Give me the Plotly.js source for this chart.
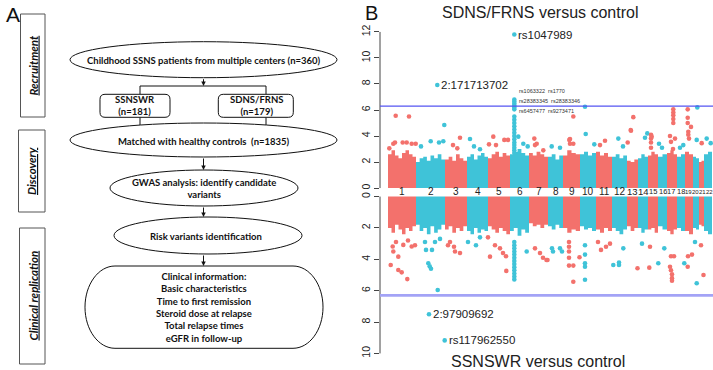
<!DOCTYPE html>
<html><head><meta charset="utf-8">
<script src="https://cdn.plot.ly/plotly-3.0.1.min.js"></script>
<style>body{margin:0;background:#fff}#chart{width:713px;height:370px}</style>
</head><body><div id="chart"></div>
<script>
// ---------------- DATA ----------------
const chromosomes = ['1','2','3','4','5','6','7','8','9','10','11','12','13','14','15','16','17','18','19','20','21','22'];
// relative genomic width of each chromosome (scaled units)
const chrWidth = [28,29,22,21,22,19,19,15,17,16,16,15,11,10,10,9,10,8,8,6,5,8];

// dense-SNP envelope (-log10 P) per chromosome, SDNS/FRNS vs control
const topProfile = [
  [2.6,2.9,2.5,2.3,2.7,2.9,2.6,2.4],[2.0,2.3,2.4,2.1,2.5,2.3,2.6,2.2],[2.2,2.4,2.1,2.6,2.3,2.1],
  [2.4,2.6,2.2,2.5,2.7,2.4],[2.3,2.6,2.8,2.4,2.7,2.5],[2.6,2.8,3.0,2.7,2.5],[2.7,2.5,2.8,2.6,2.4],
  [2.4,2.6,2.2,2.5],[2.5,2.9,2.7,2.6],[2.6,2.8,2.5,2.7],[2.8,2.5,2.7,2.4],[2.4,2.6,2.3,2.5],
  [2.1,2.0,2.2],[2.3,2.6,2.4],[2.5,2.8,2.6],[2.4,2.6],[2.7,2.9,2.6],[2.4,2.6],[2.8,2.6],[2.4,2.3],[2.0,2.1],[2.6,2.8]
];
// dense-SNP envelope, SSNSWR vs control
const bottomProfile = [
  [2.0,2.3,1.8,2.1,2.4,2.0,2.2,1.9],[1.8,2.2,2.0,2.4,1.9,2.3,2.1,1.8],[2.1,1.9,2.3,2.0,2.2,1.9],
  [2.2,2.4,2.0,2.3,2.1,2.2],[1.9,2.1,2.3,2.0,2.2,2.4],[2.2,2.0,2.5,2.1,2.3],[1.7,1.9,1.8,2.0,1.8],
  [1.9,2.1,1.8,2.0],[2.0,2.3,2.1,2.2],[1.9,2.1,2.0,2.2],[2.1,2.3,2.0,2.2],[2.0,2.2,2.4,2.1],
  [1.9,2.2,2.0],[2.0,2.3,2.1],[2.1,2.0,2.3],[1.9,2.1],[2.2,2.4,2.1],[2.0,2.2],[2.2,2.4],[2.0,2.1],[1.8,1.9],[2.2,2.4]
];

// individual SNPs above the dense band: SDNS/FRNS vs control
const topPos = [7.7,21,7,18.7,27.7,1.3,5.3,14.7,23.7,
  49.3,56.3,42.7,55.3,51,33,
  72,69.3,65,
  82,92,101,86,
  105.3,116.3,120,108,
  126.3,126.3,126.3,126.3,126.3,126.3,126.3,126.3,126.3,126.3,126.3,126.3,126.3,126.3,126.3,126.3,126.3,126.3,126.3,126.3,
  130.3,135.3,139.7,
  146.3,148.7,155.3,147,
  163.7,172,
  185.3,182,182,181.3,185.3,
  197,197.7,206.3,
  217,212,
  230.3,235,
  245.3,243,239.7,242.7,
  257,259.3,
  263,263,263,263,263.7,
  271,274,
  285.3,285.3,285.3,285.3,285.3,282,283,285,287,
  295.3,292,
  299.7,299.7,299.7,303,300.3,300.3,301,
  309.3,308.7,
  313.7,322.7,318.7];
const topLogP = [5.56,5.5,3.5,3.5,3.4,3.05,3.4,3.5,3.4,
  7.92,4.85,3.6,3.6,3.5,3.2,
  3.87,3.05,3.3,
  3.77,2.98,3.36,3.2,
  3.95,3.7,3.7,3.3,
  11.8,6.8,6.65,6.5,6.35,6.2,6.05,5.5,5.25,5.0,4.75,4.5,4.25,4.0,3.75,3.5,3.3,3.1,2.9,2.7,
  3.95,3.4,3.2,
  3.8,3.4,2.9,3.3,
  3.2,3.1,
  5.5,3.77,3.4,3.7,3.4,
  6.25,4.15,3.36,
  3.64,3.3,
  3.8,3.2,
  5.45,4.4,3.5,4.46,
  3.87,4.2,
  4.1,3.8,3.5,3.1,3.95,
  3.4,3.1,
  6.05,5.8,5.6,5.3,5.0,4.0,3.55,3.0,3.8,
  3.3,3.1,
  6.05,5.4,5.0,4.7,4.33,4.1,3.8,
  6.2,3.7,
  3.45,3.45,3.8];

// individual SNPs: SSNSWR vs control
const botPos = [2.7,10.3,13.7,19.3,10.3,5.3,4.7,15.3,23.7,27,8,20,
  40.3,41.7,43,49.7,41,56.7,37,38,44,47,52,
  62,67,72,66,60,
  80,88,92,100,
  102,107,112,118.3,118,115,
  126.3,126.3,126.3,126.3,126.3,126.3,126.3,126.3,126.3,126.3,126.3,126.3,126.3,138.7,
  147,152,155,158.5,159.5,
  164,165,172,174,
  181,181,181,181,181,185.3,185.3,191.5,
  197,197,197,197,197,
  210,213,218,222,
  225.3,231,231,235.3,
  249.5,254,
  261.3,262,
  270.3,276.3,
  282,283,284,284,284,283,286,
  296.3,
  299.7,300,304,
  308.7,307,
  313,315.5];
const botLogP = [4.36,4.68,4.83,5.26,3.83,3.5,3.18,3.08,3.18,3.1,2.9,2.8,
  4.25,4.45,4.6,5.96,7.5,9.17,2.9,3.4,3.4,2.9,2.7,
  2.9,3.5,3.6,3.2,3.1,
  2.9,3.1,2.6,2.6,
  3.83,3.1,3.3,4.74,3.8,3.6,
  2.9,3.1,3.3,3.5,3.7,3.9,4.1,4.3,4.5,4.7,4.9,5.1,5.28,3.5,
  3.3,3.6,3.9,4.04,4.04,
  3.3,3.5,3.3,3.5,
  2.9,3.2,3.5,3.9,4.4,4.4,5.43,3.87,
  3.1,3.7,4.25,4.47,5.3,
  2.9,3.4,3.2,3.0,
  4.36,4.2,4.36,3.3,
  4.57,3.0,
  4.53,3.2,
  4.25,3.3,
  4.47,4.7,4.96,5.2,5.37,3.8,3.8,
  4.25,
  4.47,3.8,3.7,
  5.53,2.9,
  3.1,5.0];

const topHitNames = ['rs1047989','2:171713702'];
const topHitPos = [126.3,49.3];
const topHitLogP = [11.8,7.92];
const hlaLabels = ['rs1063322  rs1770','rs28383345  rs28383346','rs6457477  rs9273471'];
const hlaLabelLogP = [7.48,6.71,5.95];
const botHitNames = ['2:97909692','rs117962550'];
const botHitPos = [41,56.7];
const botHitLogP = [7.5,9.17];
const threshold = 6.3;
const topTicks = [0,2,4,6,8,10,12];
const botTicks = [0,2,4,6,8,10];

const flowNodes = [
  'Childhood SSNS patients from multiple centers (n=360)',
  'SSNSWR<br>(n=181)','SDNS/FRNS<br>(n=179)',
  'Matched with healthy controls  (n=1835)',
  'GWAS analysis: identify candidate<br>variants',
  'Risk variants identification',
  'Clinical information:<br>Basic characteristics<br>Time to first remission<br>Steroid dose at relapse<br>Total relapse times<br>eGFR in follow-up'
];
const stageNames = ['Recruitment','Discovery','Clinical replication'];

// ---------------- BUILD ----------------
const W = 713, H = 370;
const px = v => v / W, py = v => 1 - v / H;
const RED = '#F3716C', BLUE = '#3FC3D8';
const starts = []; { let a = 0; chrWidth.forEach(w => { starts.push(a); a += w; }); }
const colOf = i => (i % 2 === 0 ? RED : BLUE);
const chrOf = x => { for (let i = chrWidth.length - 1; i >= 0; i--) if (x >= starts[i]) return i; return 0; };

const traces = [];
function mass(prof, yaxis) {
  prof.forEach((p, i) => {
    const n = p.length, w = chrWidth[i] / n, xs = [], ys = [];
    for (let k = 0; k < n; k++) { xs.push(starts[i] + k * w); ys.push(p[k]); }
    xs.push(starts[i] + chrWidth[i]); ys.push(p[n - 1]);
    traces.push({type:'scatter', mode:'lines', x:xs, y:ys, xaxis:'x', yaxis:yaxis, fill:'tozeroy',
      fillcolor:colOf(i), line:{width:0, shape:'hv', color:colOf(i)}, hoverinfo:'skip', showlegend:false});
  });
}
mass(topProfile, 'y');
mass(bottomProfile, 'y2');
function pts(xs, ys, yaxis) {
  traces.push({type:'scatter', mode:'markers', x:xs, y:ys, xaxis:'x', yaxis:yaxis,
    marker:{size:4.6, color:xs.map(x => colOf(chrOf(x)))}, hoverinfo:'skip', showlegend:false});
}
pts(topPos, topLogP, 'y');
pts(botPos, botLogP, 'y2');

const FB = 'Liberation Sans, Arial, sans-serif';
const FA = 'Lato, Open Sans, sans-serif';
const shapes = [], ann = [];

// axis lines & thresholds
shapes.push({type:'line', xref:'paper', yref:'y', x0:px(380), x1:px(380), y0:0, y1:12, line:{color:'#444', width:1}});
shapes.push({type:'line', xref:'paper', yref:'y2', x0:px(380), x1:px(380), y0:0, y1:10, line:{color:'#444', width:1}});
shapes.push({type:'line', xref:'paper', yref:'y', x0:px(380), x1:1, y0:threshold, y1:threshold, line:{color:'#5555f2', width:1.3}});
shapes.push({type:'line', xref:'paper', yref:'y2', x0:px(380), x1:1, y0:threshold, y1:threshold, line:{color:'#a3a3f6', width:2.8}});

// chromosome labels
const labShift = [0,0,0,0,0,0,0,0,0,0,0,0,0,0,0,0,-1,-0.5,-1,-0.5,1,1.5];
chromosomes.forEach((c, i) => {
  ann.push({xref:'x', yref:'paper', x:starts[i] + chrWidth[i] / 2, y:py(191.7), text:c, showarrow:false,
    xshift:labShift[i], borderpad:0,
    font:{family:FB, size:i < 12 ? 10 : (i < 14 ? 9.5 : (i < 18 ? 7.5 : 6)), color:'#222'}, xanchor:'center', yanchor:'middle'});
});
// hit labels
topHitNames.forEach((t, i) => ann.push({xref:'x', yref:'y', x:topHitPos[i], y:topHitLogP[i], text:t, showarrow:false,
  xanchor:'left', yanchor:'middle', xshift:2, font:{family:FB, size:11.5, color:'#222'}}));
hlaLabels.forEach((t, i) => ann.push({xref:'x', yref:'y', x:126.3, y:hlaLabelLogP[i], text:t, showarrow:false,
  xanchor:'left', yanchor:'middle', xshift:3, font:{family:FB, size:5.5, color:'#333'}}));
botHitNames.forEach((t, i) => ann.push({xref:'x', yref:'y2', x:botHitPos[i], y:botHitLogP[i], text:t, showarrow:false,
  xanchor:'left', yanchor:'middle', xshift:2, font:{family:FB, size:11.5, color:'#222'}}));
// titles
ann.push({xref:'paper', yref:'paper', x:px(540), y:py(12), text:'SDNS/FRNS versus control', showarrow:false,
  xanchor:'center', yanchor:'middle', font:{family:FB, size:16, color:'#222'}});
ann.push({xref:'paper', yref:'paper', x:px(538), y:py(361.5), text:'SSNSWR versus control', showarrow:false,
  xanchor:'center', yanchor:'middle', font:{family:FB, size:16, color:'#222'}});
ann.push({xref:'paper', yref:'paper', x:px(363), y:py(13), text:'B', showarrow:false,
  xanchor:'left', yanchor:'middle', font:{family:FB, size:20, color:'#111'}});
ann.push({xref:'paper', yref:'paper', x:px(4), y:py(14), text:'A', showarrow:false,
  xanchor:'left', yanchor:'middle', font:{family:FB, size:21, color:'#111'}});

// ---- panel A flowchart ----
const LN = {color:'#111', width:1};
function ell(x0, y0, x1, y1) { shapes.push({type:'circle', xref:'paper', yref:'paper', x0:px(x0), x1:px(x1), y0:py(y1), y1:py(y0), line:LN, fillcolor:'#fff'}); }
function seg(x0, y0, x1, y1) { shapes.push({type:'line', xref:'paper', yref:'paper', x0:px(x0), x1:px(x1), y0:py(y0), y1:py(y1), line:LN}); }
function rrect(x0, y0, x1, y1, r) {
  const P = (x, y) => px(x).toFixed(5) + ',' + py(y).toFixed(5);
  const d = 'M' + P(x0 + r, y0) + ' L' + P(x1 - r, y0) + ' Q' + P(x1, y0) + ' ' + P(x1, y0 + r) + ' L' + P(x1, y1 - r) +
    ' Q' + P(x1, y1) + ' ' + P(x1 - r, y1) + ' L' + P(x0 + r, y1) + ' Q' + P(x0, y1) + ' ' + P(x0, y1 - r) +
    ' L' + P(x0, y0 + r) + ' Q' + P(x0, y0) + ' ' + P(x0 + r, y0) + ' Z';
  shapes.push({type:'path', xref:'paper', yref:'paper', path:d, line:LN, fillcolor:'#fff'});
}
function stadium(x0, y0, x1, y1, rx) {
  const P = (x, y) => px(x).toFixed(5) + ',' + py(y).toFixed(5);
  const ry = (y1 - y0) / 2, ym = (y0 + y1) / 2, k = 0.5523;
  const d = 'M' + P(x0 + rx, y0) + ' L' + P(x1 - rx, y0) +
    ' C' + P(x1 - rx + k * rx, y0) + ' ' + P(x1, ym - k * ry) + ' ' + P(x1, ym) +
    ' C' + P(x1, ym + k * ry) + ' ' + P(x1 - rx + k * rx, y1) + ' ' + P(x1 - rx, y1) +
    ' L' + P(x0 + rx, y1) +
    ' C' + P(x0 + rx - k * rx, y1) + ' ' + P(x0, ym + k * ry) + ' ' + P(x0, ym) +
    ' C' + P(x0, ym - k * ry) + ' ' + P(x0 + rx - k * rx, y0) + ' ' + P(x0 + rx, y0) + ' Z';
  shapes.push({type:'path', xref:'paper', yref:'paper', path:d, line:LN, fillcolor:'#fff'});
}
function arrow(x, y0, y1) {
  ann.push({xref:'paper', yref:'paper', x:px(x), y:py(y1), ax:0, ay:-(y1 - y0), text:'', showarrow:true,
    arrowhead:2, arrowsize:0.9, arrowwidth:1, arrowcolor:'#111', standoff:0, startstandoff:0});
}
function txt(x, y, t, size, extra) {
  ann.push(Object.assign({xref:'paper', yref:'paper', x:px(x), y:py(y), text:t, showarrow:false,
    xanchor:'center', yanchor:'middle', font:{family:FA, size:size, color:'#111'}}, extra || {}));
}
// stage boxes
shapes.push({type:'rect', xref:'paper', yref:'paper', x0:px(20.5), x1:px(45), y0:py(117), y1:py(14), line:{color:'#555', width:1}});
shapes.push({type:'rect', xref:'paper', yref:'paper', x0:px(18.5), x1:px(45), y0:py(212), y1:py(130), line:{color:'#555', width:1}});
shapes.push({type:'rect', xref:'paper', yref:'paper', x0:px(19.5), x1:px(45), y0:py(364), y1:py(228), line:{color:'#555', width:1}});
txt(33, 65.5, '<b><i><u>' + stageNames[0] + '</u></i></b>', 11.5, {textangle:-90});
txt(32, 171, '<b><i><u>' + stageNames[1] + '</u></i></b>', 11.5, {textangle:-90});
txt(32.5, 296, '<b><i><u>' + stageNames[2] + '</u></i></b>', 11.5, {textangle:-90});

// connectors
seg(140, 86, 266, 86);
seg(140, 86, 140, 94.3); seg(266, 86, 266, 94.3);
seg(140, 117.3, 140, 125.5); seg(266, 117.3, 266, 125.5);
arrow(203.5, 77.7, 86);
arrow(203.5, 157, 170);
arrow(203.5, 206, 217);
arrow(203.5, 254, 266);
// nodes
ell(70, 41.7, 337, 77.7);
rrect(100, 94.3, 170, 117.3, 5);
rrect(218.3, 94.3, 293.3, 117.3, 5);
ell(70, 123, 337, 157);
ell(110, 170, 298, 206);
ell(114, 217, 302, 254);
stadium(85, 266, 323, 348.3, 30);

txt(204, 60, '<b>' + flowNodes[0] + '</b>', 9.5);
txt(135, 105.5, '<b>' + flowNodes[1] + '</b>', 9.5);
txt(256, 105.5, '<b>' + flowNodes[2] + '</b>', 9.5);
txt(204, 141, '<b>' + flowNodes[3] + '</b>', 9.5);
txt(204, 188, '<b>' + flowNodes[4] + '</b>', 9.5);
txt(206, 236, '<b>' + flowNodes[5] + '</b>', 9.5);
txt(204, 307, '<b>' + flowNodes[6] + '</b>', 9.5);

const yax = {showgrid:false, zeroline:false, showline:false, ticks:'outside', ticklen:5, tickcolor:'#444', tickwidth:1,
  tickangle:-90, tickfont:{family:FB, size:10.5, color:'#222'}, anchor:'x', fixedrange:true};
const layout = {
  width:W, height:H, margin:{l:0, r:0, t:0, b:0}, paper_bgcolor:'#fff', plot_bgcolor:'rgba(0,0,0,0)', showlegend:false,
  xaxis:{domain:[px(380), 1], range:[-8, 325], visible:false, fixedrange:true},
  yaxis:Object.assign({}, yax, {domain:[py(190), py(30)], range:[-0.15, 12.15], tickvals:topTicks}),
  yaxis2:Object.assign({}, yax, {domain:[py(355), py(195)], range:[10.1, -0.1], tickvals:botTicks}),
  shapes:shapes, annotations:ann
};
Plotly.newPlot('chart', traces, layout, {staticPlot:true, displayModeBar:false});
</script></body></html>
